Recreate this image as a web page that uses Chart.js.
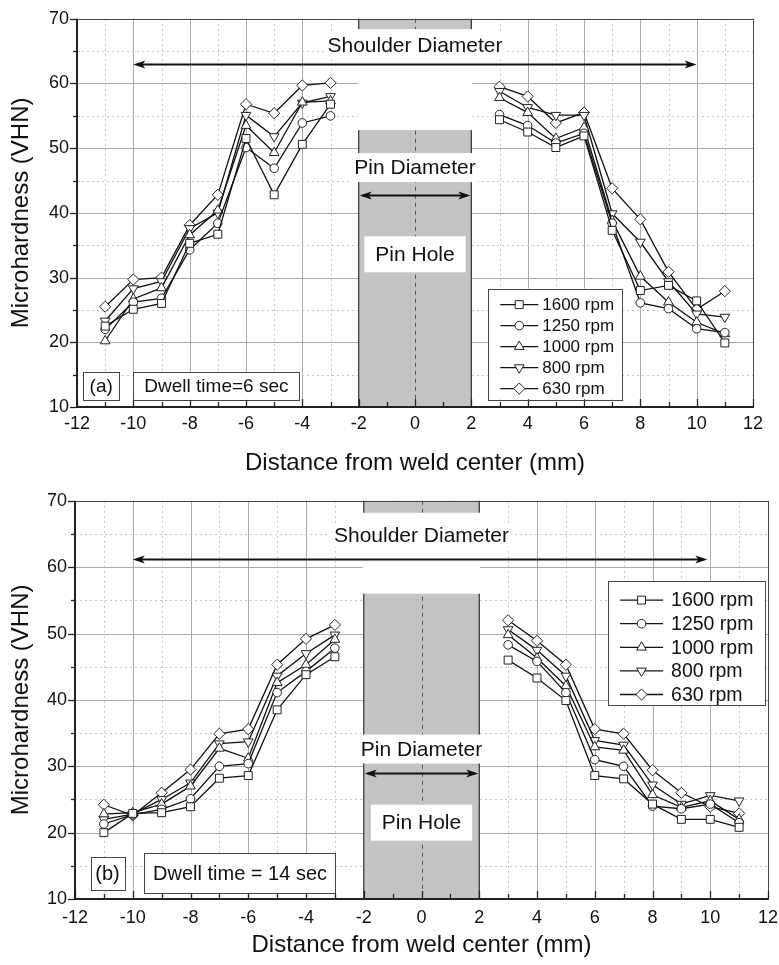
<!DOCTYPE html>
<html>
<head>
<meta charset="utf-8">
<script src="https://cdn.jsdelivr.net/npm/chart.js@4.4.1/dist/chart.umd.min.js"></script>
<style>
  html, body { margin: 0; padding: 0; background: #fff; }
  .panel { position: absolute; left: 0; width: 779px; }
  #panelA { top: 0; height: 482px; }
  #panelB { top: 482px; height: 483px; }
</style>
</head>
<body>
<div class="panel" id="panelA"><canvas id="chartA" width="779" height="482"></canvas></div>
<div class="panel" id="panelB"><canvas id="chartB" width="779" height="483"></canvas></div>
<script>
// distance from weld center (mm); the pin hole (-2..2) has no readings
var distanceMm = [-11, -10, -9, -8, -7, -6, -5, -4, -3, 3, 4, 5, 6, 7, 8, 9, 10, 11];
var rpmLabels = ['1600 rpm', '1250 rpm', '1000 rpm', '800 rpm', '630 rpm'];

// (a) dwell time 6 sec
var hv6_1600 = [22.5, 25.1, 26.0, 35.3, 36.7, 51.5, 42.8, 50.6, 56.8, 54.4, 52.5, 50.1, 51.9, 37.3, 28.0, 28.8, 26.4, 19.9];
var hv6_1250 = [22.0, 26.2, 26.8, 34.3, 38.4, 50.1, 46.9, 53.9, 55.0, 55.2, 53.5, 50.8, 52.3, 38.4, 26.1, 25.2, 22.1, 21.5];
var hv6_1000 = [20.2, 26.7, 28.4, 36.6, 40.4, 53.5, 49.3, 57.1, 57.3, 57.8, 55.5, 51.5, 53.2, 38.8, 30.2, 26.2, 23.1, 21.3];
var hv6_800  = [23.3, 28.3, 29.4, 37.6, 40.0, 55.1, 51.8, 57.0, 58.0, 58.8, 56.3, 55.1, 55.1, 39.9, 35.5, 29.4, 24.4, 23.9];
var hv6_630  = [25.5, 29.7, 30.0, 38.1, 42.8, 56.8, 55.4, 59.7, 60.1, 59.5, 58.0, 53.9, 55.5, 43.8, 39.0, 30.9, 25.1, 27.9];

// (b) dwell time 14 sec
var hv14_1600 = [20.0, 22.9, 23.0, 23.9, 28.2, 28.6, 38.5, 43.8, 46.5, 46.0, 43.3, 39.9, 28.6, 28.1, 24.3, 22.0, 22.0, 20.8];
var hv14_1250 = [21.3, 22.7, 23.5, 25.1, 30.0, 30.4, 41.1, 44.3, 47.8, 48.3, 45.8, 41.1, 31.0, 30.0, 24.0, 23.6, 24.3, 21.5];
var hv14_1000 = [22.8, 23.0, 24.3, 27.0, 32.7, 31.2, 42.6, 45.3, 49.1, 49.8, 46.3, 42.1, 32.9, 32.4, 25.7, 23.8, 24.8, 22.0];
var hv14_800  = [22.0, 22.8, 25.0, 27.5, 33.4, 33.7, 43.6, 47.0, 49.8, 50.6, 47.5, 43.6, 33.9, 33.2, 27.2, 24.3, 25.6, 24.8];
var hv14_630  = [24.2, 22.6, 26.0, 29.5, 34.9, 35.6, 45.3, 49.2, 51.3, 52.0, 48.9, 45.3, 35.6, 34.9, 29.4, 26.0, 23.9, 22.9];

var FONT = "'Liberation Sans', Arial, sans-serif";
var INK = '#111';

var markers = [
  { pointStyle: 'rect', rotation: 0, radius: 5.6 },
  { pointStyle: 'circle', rotation: 0, radius: 4.3 },
  { pointStyle: 'triangle', rotation: 0, radius: 5.6 },
  { pointStyle: 'triangle', rotation: 180, radius: 5.6 },
  { pointStyle: 'rectRot', rotation: 0, radius: 5.6 }
];

// points with a break over the pin hole
function toPoints(vals) {
  var pts = [];
  distanceMm.forEach(function(d, i) {
    if (i > 0 && d - distanceMm[i - 1] > 1) pts.push({ x: (d + distanceMm[i - 1]) / 2, y: null });
    pts.push({ x: d, y: vals[i] });
  });
  return pts;
}

function makeDatasets(series) {
  return series.map(function(vals, i) {
    var m = markers[i];
    return {
      label: rpmLabels[i],
      data: toPoints(vals),
      borderColor: INK,
      borderWidth: 1.3,
      backgroundColor: '#fff',
      pointStyle: m.pointStyle,
      pointRotation: m.rotation,
      pointRadius: m.radius,
      pointBorderColor: '#222',
      pointBackgroundColor: '#fff',
      pointBorderWidth: 1,
      spanGaps: false,
      tension: 0
    };
  });
}

function arrowHead(ctx, x, y, dir) {
  ctx.beginPath();
  ctx.moveTo(x, y);
  ctx.lineTo(x - dir * 12, y - 4);
  ctx.lineTo(x - dir * 9, y);
  ctx.lineTo(x - dir * 12, y + 4);
  ctx.closePath();
  ctx.fill();
}

function boxedText(ctx, text, cx, cy, size, padX, h) {
  ctx.font = size + 'px ' + FONT;
  var w = ctx.measureText(text).width;
  ctx.fillStyle = '#fff';
  ctx.fillRect(cx - w / 2 - padX, cy - h / 2, w + 2 * padX, h);
  ctx.fillStyle = INK;
  ctx.textAlign = 'center';
  ctx.textBaseline = 'middle';
  ctx.fillText(text, cx, cy + 1);
}

var weldDecor = {
  id: 'weldDecor',
  beforeDatasetsDraw: function(chart, args, o) {
    var ctx = chart.ctx, xs = chart.scales.x, ys = chart.scales.y, a = chart.chartArea;
    var X = function(v) { return xs.getPixelForValue(v); };
    var Y = function(v) { return ys.getPixelForValue(v); };
    var v, p;
    ctx.save();
    ctx.lineWidth = 1;
    // grid: solid on labelled values, dotted in between
    for (v = xs.min; v <= xs.max; v += 1) {
      p = Math.round(X(v)) + 0.5;
      ctx.setLineDash(v % 2 === 0 ? [] : [2, 3]);
      ctx.strokeStyle = v % 2 === 0 ? '#aaa' : '#c6c6c6';
      ctx.beginPath(); ctx.moveTo(p, a.top); ctx.lineTo(p, a.bottom); ctx.stroke();
    }
    for (v = ys.min; v <= ys.max; v += 5) {
      p = Math.round(Y(v)) + 0.5;
      ctx.setLineDash(v % 10 === 0 ? [] : [2, 3]);
      ctx.strokeStyle = v % 10 === 0 ? '#aaa' : '#c6c6c6';
      ctx.beginPath(); ctx.moveTo(a.left, p); ctx.lineTo(a.right, p); ctx.stroke();
    }
    ctx.setLineDash([]);

    // pin hole band
    var bl = X(o.band[0]), br = X(o.band[1]), bc = X((o.band[0] + o.band[1]) / 2);
    ctx.fillStyle = '#c4c4c4';
    ctx.fillRect(bl, a.top, br - bl, a.bottom - a.top);
    ctx.setLineDash([4, 4]);
    ctx.strokeStyle = '#555';
    ctx.beginPath(); ctx.moveTo(Math.round(bc) + 0.5, a.top); ctx.lineTo(Math.round(bc) + 0.5, a.bottom); ctx.stroke();
    ctx.setLineDash([]);
    ctx.strokeStyle = '#333';
    ctx.lineWidth = 1.2;
    [bl, br].forEach(function(px) {
      ctx.beginPath(); ctx.moveTo(px, a.top); ctx.lineTo(px, a.bottom); ctx.stroke();
    });
    ctx.fillStyle = '#fff';
    ctx.fillRect(bl - 1, Y(o.gap[0]), br - bl + 2, Y(o.gap[1]) - Y(o.gap[0]));

    // shoulder diameter
    var s = o.shoulder;
    boxedText(ctx, 'Shoulder Diameter', bc, Y(s.textY), o.fontBig, 4, 24);
    ctx.strokeStyle = INK; ctx.fillStyle = INK; ctx.lineWidth = 1.8;
    var sy = Math.round(Y(s.arrowY)) + 0.5;
    ctx.beginPath(); ctx.moveTo(X(s.from) + 4, sy); ctx.lineTo(X(s.to) - 4, sy); ctx.stroke();
    arrowHead(ctx, X(s.from), sy, -1);
    arrowHead(ctx, X(s.to), sy, 1);

    // pin diameter
    boxedText(ctx, 'Pin Diameter', bc, Y(o.pinDiaTextY), o.fontBig, 2, 29);
    var py = Math.round(Y(o.pinDiaArrowY)) + 0.5;
    ctx.strokeStyle = INK; ctx.fillStyle = INK; ctx.lineWidth = 1.8;
    ctx.beginPath(); ctx.moveTo(bl + 4, py); ctx.lineTo(br - 4, py); ctx.stroke();
    arrowHead(ctx, bl + 1, py, -1);
    arrowHead(ctx, br - 1, py, 1);

    // pin hole
    boxedText(ctx, 'Pin Hole', bc, Y(o.pinHoleY), o.fontBig, 11, 36);
    ctx.restore();
  },
  afterDatasetsDraw: function(chart, args, o) {
    var ctx = chart.ctx, xs = chart.scales.x, ys = chart.scales.y, a = chart.chartArea;
    var X = function(v) { return xs.getPixelForValue(v); };
    var Y = function(v) { return ys.getPixelForValue(v); };
    var v, p;
    ctx.save();
    // frame
    ctx.strokeStyle = '#444'; ctx.lineWidth = 1;
    ctx.strokeRect(Math.round(a.left) + 0.5, Math.round(a.top) + 0.5, Math.round(a.right - a.left), Math.round(a.bottom - a.top));
    ctx.strokeStyle = '#222'; ctx.lineWidth = 2;
    ctx.beginPath();
    ctx.moveTo(a.left, a.top); ctx.lineTo(a.left, a.bottom); ctx.lineTo(a.right, a.bottom);
    ctx.stroke();
    // ticks
    ctx.lineWidth = 1.3;
    for (v = xs.min; v <= xs.max; v += 1) {
      p = Math.round(X(v)) + 0.5;
      ctx.beginPath(); ctx.moveTo(p, a.bottom); ctx.lineTo(p, a.bottom - (v % 2 === 0 ? 8 : 5)); ctx.stroke();
    }
    for (v = ys.min; v <= ys.max; v += 5) {
      p = Math.round(Y(v)) + 0.5;
      ctx.beginPath(); ctx.moveTo(a.left, p); ctx.lineTo(a.left - (v % 10 === 0 ? 7 : 4), p); ctx.stroke();
    }

    // legend
    var L = o.legend;
    var lx = X(L.x0), ly = Y(L.y0), lw = X(L.x1) - lx, lh = Y(L.y1) - ly;
    ctx.fillStyle = '#fff';
    ctx.fillRect(lx, ly, lw, lh);
    ctx.strokeStyle = '#444'; ctx.lineWidth = 1;
    ctx.strokeRect(Math.round(lx) + 0.5, Math.round(ly) + 0.5, Math.round(lw), Math.round(lh));
    ctx.font = L.font + 'px ' + FONT;
    ctx.textAlign = 'left'; ctx.textBaseline = 'middle';
    chart.data.datasets.forEach(function(ds, i) {
      var ry = ly + L.first + i * L.step;
      ctx.strokeStyle = INK; ctx.lineWidth = 1.3;
      ctx.beginPath(); ctx.moveTo(lx + L.line[0], ry); ctx.lineTo(lx + L.line[1], ry); ctx.stroke();
      ctx.fillStyle = '#fff'; ctx.strokeStyle = '#222'; ctx.lineWidth = 1;
      Chart.helpers.drawPoint(ctx, { pointStyle: ds.pointStyle, rotation: ds.pointRotation, radius: ds.pointRadius, borderWidth: 1 },
        lx + (L.line[0] + L.line[1]) / 2, ry);
      ctx.fillStyle = INK;
      ctx.fillText(ds.label, lx + L.textX, ry + 1);
    });

    // panel tag and dwell time notes
    o.notes.forEach(function(n) {
      var nx = X(n.x0), ny = Y(n.y0), nw = X(n.x1) - nx, nh = Y(n.y1) - ny;
      ctx.fillStyle = '#fff';
      ctx.fillRect(nx, ny, nw, nh);
      ctx.strokeStyle = '#444'; ctx.lineWidth = 1;
      ctx.strokeRect(Math.round(nx) + 0.5, Math.round(ny) + 0.5, Math.round(nw), Math.round(nh));
      ctx.fillStyle = INK;
      ctx.font = o.fontNote + 'px ' + FONT;
      ctx.textAlign = 'center'; ctx.textBaseline = 'middle';
      ctx.fillText(n.text, nx + nw / 2, ny + nh / 2 + 1);
    });
    ctx.restore();
  }
};

function buildChart(id, series, cfg) {
  return new Chart(document.getElementById(id), {
    type: 'line',
    data: { datasets: makeDatasets(series) },
    plugins: [weldDecor],
    options: {
      responsive: false,
      animation: false,
      layout: { padding: { top: cfg.padTop, right: cfg.padRight, left: 0, bottom: 0 } },
      plugins: { legend: { display: false }, tooltip: { enabled: false }, weldDecor: cfg.decor },
      scales: {
        x: {
          type: 'linear', min: -12, max: 12,
          ticks: { stepSize: 2, padding: cfg.xTickPad, color: INK, font: { family: FONT, size: 18 } },
          grid: { display: false, drawTicks: false },
          border: { display: false },
          title: { display: true, text: 'Distance from weld center (mm)', color: INK,
                   font: { family: FONT, size: 24 }, padding: { top: 0, bottom: cfg.titlePadB } },
          afterFit: function(s) { s.height = cfg.xHeight; s.paddingLeft = 0; s.paddingRight = 0; }
        },
        y: {
          min: 10, max: 70,
          ticks: { stepSize: 10, padding: 8, color: INK, font: { family: FONT, size: 18 } },
          grid: { display: false, drawTicks: false },
          border: { display: false },
          title: { display: true, text: 'Microhardness (VHN)', color: INK,
                   font: { family: FONT, size: 24 }, padding: { top: 7, bottom: 0 } },
          afterFit: function(s) { s.width = cfg.yWidth; }
        }
      }
    }
  });
}

buildChart('chartA', [hv6_1600, hv6_1250, hv6_1000, hv6_800, hv6_630], {
  padTop: 16, padRight: 26, xHeight: 75, yWidth: 77, xTickPad: 6, titlePadB: 4,
  decor: {
    band: [-2, 2], gap: [68.4, 52.8],
    shoulder: { textY: 65.9, arrowY: 63.0, from: -10, to: 10 },
    pinDiaTextY: 47.0, pinDiaArrowY: 42.8, pinHoleY: 33.6,
    fontBig: 21, fontNote: 19,
    legend: { x0: 2.6, y0: 28.3, x1: 7.35, y1: 11.2, first: 16, step: 21, line: [12, 50], textX: 54, font: 17 },
    notes: [
      { text: '(a)', x0: -11.78, y0: 15.4, x1: -10.5, y1: 11.1 },
      { text: 'Dwell time=6 sec', x0: -10.0, y0: 15.4, x1: -4.1, y1: 11.1 }
    ]
  }
});

buildChart('chartB', [hv14_1600, hv14_1250, hv14_1000, hv14_800, hv14_630], {
  padTop: 16, padRight: 11, xHeight: 66, yWidth: 75, xTickPad: 8, titlePadB: 5,
  decor: {
    band: [-2, 2], gap: [68.2, 56.0],
    shoulder: { textY: 64.8, arrowY: 61.3, from: -10, to: 9.9 },
    pinDiaTextY: 32.6, pinDiaArrowY: 29.0, pinHoleY: 21.5,
    fontBig: 21, fontNote: 20,
    legend: { x0: 6.46, y0: 57.9, x1: 11.9, y1: 39.2, first: 19, step: 23.6, line: [12, 55], textX: 63, font: 19.5 },
    notes: [
      { text: '(b)', x0: -11.46, y0: 16.3, x1: -10.29, y1: 11.4 },
      { text: 'Dwell time = 14 sec', x0: -9.6, y0: 16.9, x1: -2.97, y1: 10.9 }
    ]
  }
});
</script>
</body>
</html>
